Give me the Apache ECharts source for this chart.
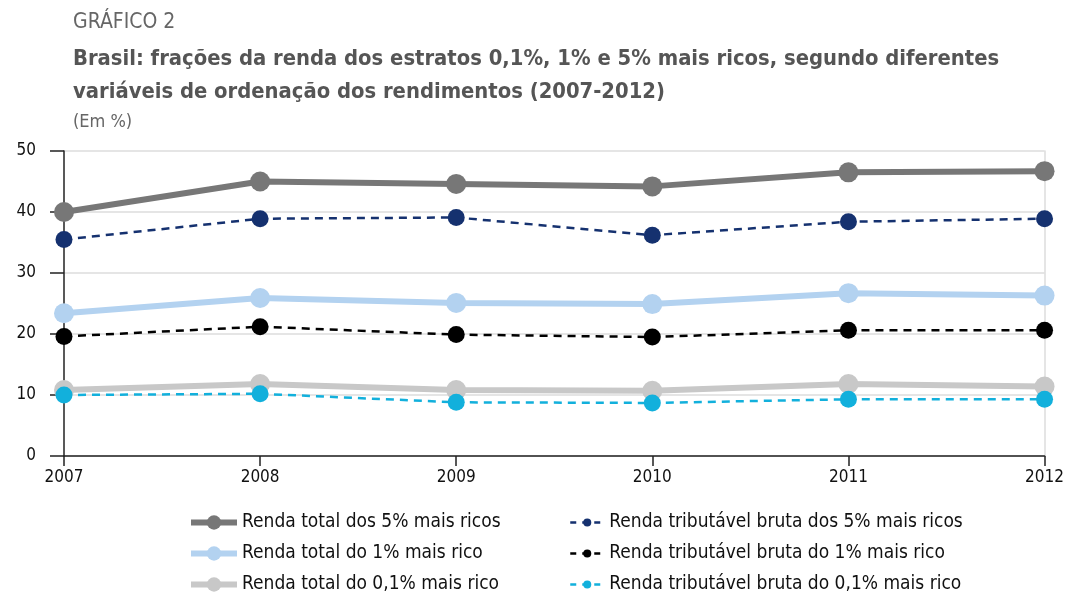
<html>
<head>
    <meta charset="utf-8" />
    <script src="https://cdn.jsdelivr.net/npm/echarts@6/dist/echarts.min.js"></script>
    <style>
        body { margin: 0; background: #fff; }
        #chart { width: 1067px; height: 594px; }
    </style>
</head>
<body>
    <div id="chart"></div>
    <script>
        // dados
        var anos = ['2007', '2008', '2009', '2010', '2011', '2012'];
        var total5 = [40.0, 45.0, 44.6, 44.2, 46.5, 46.7];
        var total1 = [23.4, 25.9, 25.1, 24.9, 26.7, 26.3];
        var total01 = [10.8, 11.8, 10.8, 10.7, 11.8, 11.4];
        var trib5 = [35.5, 38.9, 39.1, 36.2, 38.4, 38.9];
        var trib1 = [19.6, 21.2, 19.9, 19.5, 20.6, 20.6];
        var trib01 = [10.0, 10.2, 8.8, 8.7, 9.3, 9.3];
        var yTicks = [0, 10, 20, 30, 40, 50];

        var nomes = [
            'Renda total dos 5% mais ricos', 'Renda total do 1% mais rico', 'Renda total do 0,1% mais rico',
            'Renda tributável bruta dos 5% mais ricos', 'Renda tributável bruta do 1% mais rico', 'Renda tributável bruta do 0,1% mais rico'
        ];
        var cores = ['#777777', '#b3d2f0', '#c8c8c8', '#15316f', '#000000', '#12b0dc'];

        var fonte = '"DejaVu Sans Condensed", "Liberation Sans Narrow", "Open Sans", sans-serif';
        var chart = echarts.init(document.getElementById('chart'));

        function solida(i, dados) {
            return {
                name: nomes[i], type: 'line', data: dados,
                symbol: 'circle', symbolSize: 20,
                lineStyle: { width: 6, color: cores[i] },
                itemStyle: { color: cores[i] },
                z: 2
            };
        }
        function tracejada(i, dados) {
            return {
                name: nomes[i], type: 'line', data: dados,
                symbol: 'circle', symbolSize: 17,
                lineStyle: { width: 2.5, color: cores[i], type: [8, 6] },
                itemStyle: { color: cores[i] },
                z: 3
            };
        }

        // uma legenda por item, em duas colunas
        var legendas = [];
        for (var i = 0; i < 6; i++) {
            var solidaItem = i < 3;
            legendas.push({
                data: [nomes[i]],
                left: solidaItem ? 183 : 564,
                top: 508 + (i % 3) * 31,
                itemWidth: solidaItem ? 46 : 34,
                itemHeight: solidaItem ? 18 : 10,
                itemGap: 4,
                lineStyle: solidaItem ? { width: 6 } : { width: 2.5, type: [6, 6] },
                textStyle: { fontSize: 19, color: '#111', fontFamily: fonte }
            });
        }

        var option = {
            animation: false,
            textStyle: { fontFamily: fonte },
            title: [
                { text: 'GRÁFICO 2', left: 68, top: 7,
                  textStyle: { fontSize: 21, fontWeight: 'normal', color: '#666', fontFamily: fonte } },
                { text: 'Brasil: frações da renda dos estratos 0,1%, 1% e 5% mais ricos, segundo diferentes\nvariáveis de ordenação dos rendimentos (2007-2012)',
                  left: 68, top: 38,
                  textStyle: { fontSize: 21.8, fontWeight: 'bold', color: '#555555', lineHeight: 33, fontFamily: fonte } },
                { text: '(Em %)', left: 68, top: 108,
                  textStyle: { fontSize: 18, fontWeight: 'normal', color: '#666', fontFamily: fonte } }
            ],
            grid: { left: 64, right: 17, top: 151, bottom: 138 },
            legend: legendas,
            xAxis: {
                type: 'category', data: anos, boundaryGap: false,
                axisLine: { lineStyle: { color: '#222', width: 1.5 } },
                axisTick: { alignWithLabel: true, length: 10, lineStyle: { color: '#222', width: 1.5 } },
                axisLabel: { fontSize: 17, color: '#111', margin: 13, fontFamily: fonte,
                             showMinLabel: true, showMaxLabel: true },
                splitLine: { show: false }
            },
            yAxis: [
                {
                    type: 'value', min: yTicks[0], max: yTicks[yTicks.length - 1], interval: 10,
                    axisLine: { show: true, lineStyle: { color: '#222', width: 1.5 } },
                    axisTick: { show: true, length: 14, lineStyle: { color: '#222', width: 1.5 } },
                    axisLabel: { fontSize: 17, color: '#111', margin: 28, fontFamily: fonte },
                    splitLine: { lineStyle: { color: '#dcdcdc', width: 1.5 } }
                },
                {
                    type: 'value', position: 'right', min: 0, max: 50, interval: 10,
                    axisLine: { show: true, lineStyle: { color: '#dcdcdc', width: 1.5 } },
                    axisTick: { show: false }, axisLabel: { show: false },
                    splitLine: { show: false }
                }
            ],
            series: [
                solida(0, total5),
                solida(1, total1),
                solida(2, total01),
                tracejada(3, trib5),
                tracejada(4, trib1),
                tracejada(5, trib01)
            ]
        };

        chart.setOption(option);
    </script>
</body>
</html>
